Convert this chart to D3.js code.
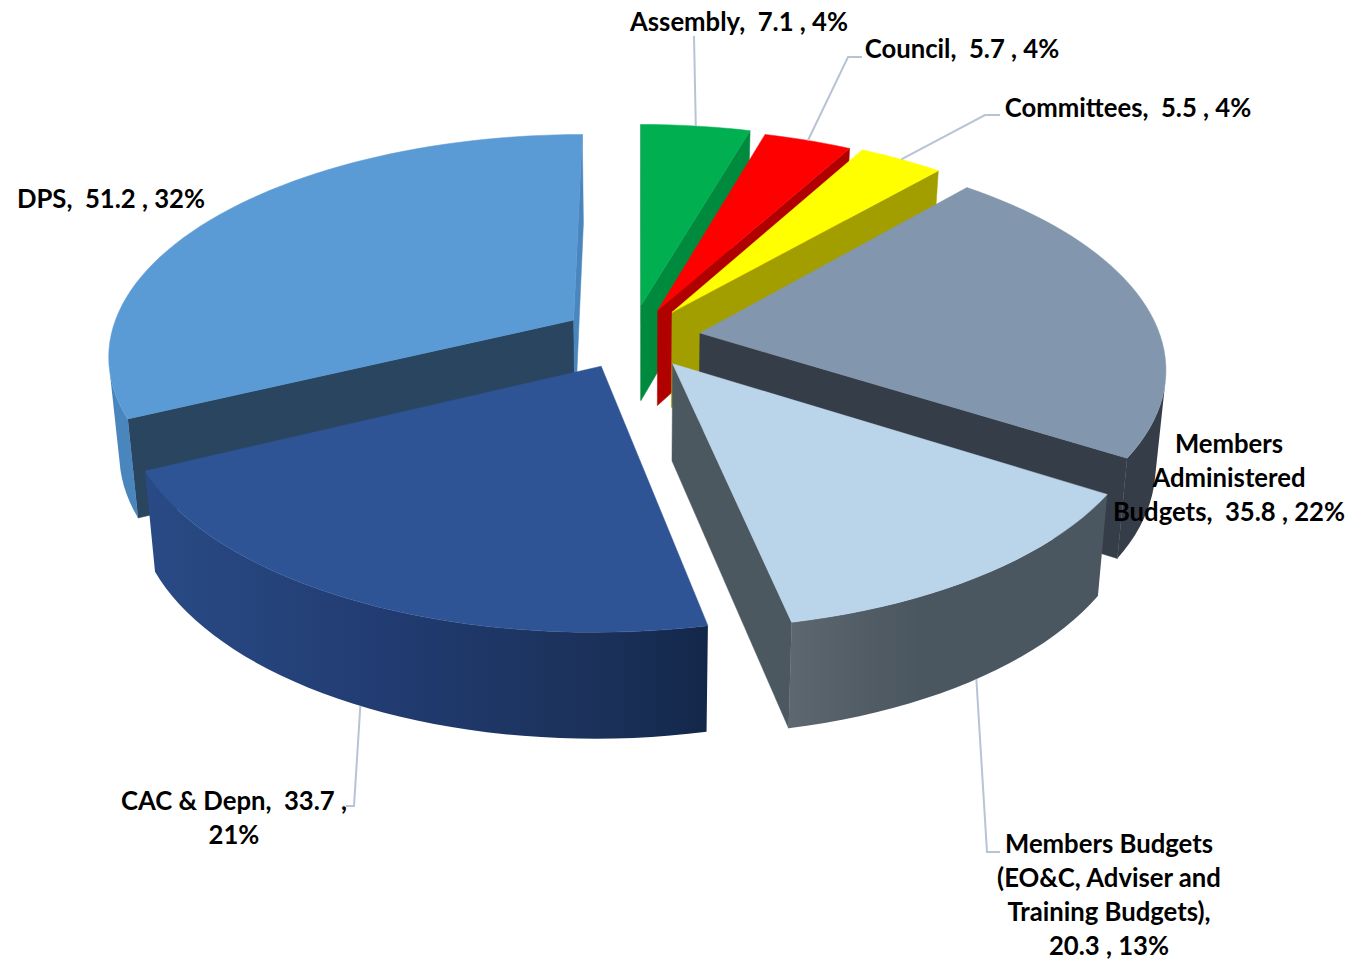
<!DOCTYPE html>
<html><head><meta charset="utf-8">
<script src="https://cdn.jsdelivr.net/npm/d3@7"></script>
<style>html,body{margin:0;padding:0;background:#fff;overflow:hidden}svg{display:block}
text{font-family:Lato,"Open Sans",sans-serif;font-weight:700;fill:#000;white-space:pre}</style>
</head><body><div id="chart"></div>
<script>
// ---- data ----
const categories = ["Assembly","Council","Committees","Members Administered Budgets","Members Budgets (EO&C, Adviser and Training Budgets)","CAC & Depn","DPS"];
const values = [7.1,5.7,5.5,35.8,20.3,33.7,51.2];
const percents = [4,4,4,22,13,21,32];
// ---- styling / layout ----
const topColors  = ["#00B050","#FF0000","#FFFF00","#8296AE","#BAD4EA","#2E5495","#5B9BD5"];
const startWallColors = ["#007A38","#B00000","#A39E00","#353D48","#4B5860","#1F3864","#2A4560"];
const endWallColors   = ["#008A3E","#B00000","#A39E00","#353D48","#4B5860","#1F3864","#4A86BE"];
const rimStops = [
 [[0,"#008A3E"],[1,"#008A3E"]],[[0,"#B00000"],[1,"#B00000"]],[[0,"#A39E00"],[1,"#A39E00"]],
 [[0,"#353D48"],[1,"#353D48"]],
 [[790,"#5C6770"],[860,"#525D66"],[920,"#4B5760"],[1100,"#4B5760"]],
 [[150,"#294A85"],[400,"#213B70"],[600,"#1B3159"],[708,"#13274A"]],
 [[0,"#4A86BE"],[1,"#4A86BE"]]];
const radii = [460,460,460,460,460,460,463];
const explodeX = [1,18,32.5,60,32,-38,-67];
const explodeY = [-64,-53,-49,-4,60,65,-32];
const drawOrder = [6,0,1,2,3,4,5];
const labelLines = [
 ["Assembly,  7.1 , 4%"],["Council,  5.7 , 4%"],["Committees,  5.5 , 4%"],
 ["Members","Administered","Budgets,  35.8 , 22%"],
 ["Members Budgets","(EO&C, Adviser and","Training Budgets),","20.3 , 13%"],
 ["CAC & Depn,  33.7 ,","21%"],["DPS,  51.2 , 32%"]];
const labelX = [739,962,1128,1229,1109,234,111];
const labelY = [22,49,108,444,844,801,199];
const leaderElbows = [[[694,36]],[[848,57],[862,57]],[[985,115],[1000,115]],null,[[987,852],[1000,852]],[[354,806],[346,806]],null];
const leaderOnBottom = [false,false,false,false,true,true,false];

const W=1372,H=963,cx=640,cy=335,k=0.47,p=0.000324,depth=96,depthPow=0.55,q=0.98,fontSize=25.7,lineStep=34;
const svg=d3.select("#chart").append("svg").attr("width",W).attr("height",H);
const defs=svg.append("defs");
const pie=d3.pie().sort(null).value(d=>d)(values);
const xScale=d3.scaleLinear().domain([-1,1]).range([cx-1,cx+1]);
const yScale=d3.scaleLinear().domain([-1,1]).range([cy-k,cy+k]);
function proj(X,Y,low){
  const s=1/(1-p*Y);
  let sx=xScale(X*s), sy=yScale(Y*s);
  if(low){ sx=cx+(sx-cx)*q; sy+=depth*Math.pow(s,depthPow); }
  return [sx,sy];
}
const rim=(i,a,low)=>proj(explodeX[i]+radii[i]*Math.sin(a),explodeY[i]-radii[i]*Math.cos(a),low);
const apex=(i,low)=>proj(explodeX[i],explodeY[i],low);
const line=d3.line();
const area=pts=>d3.polygonArea(pts);   // negative = face looks at the viewer with this winding
function face(g,pts,color){
  g.append("path").attr("d",line(pts)+"Z").attr("fill",color).attr("stroke",color).attr("stroke-width",0.5).attr("stroke-linejoin","round");
}
const stepRad=Math.PI/90;
drawOrder.forEach(i=>{
  const d=pie[i],a0=d.startAngle,a1=d.endAngle;
  const g=svg.append("g").attr("class","slice").attr("data-name",categories[i]);
  const n=Math.max(2,Math.ceil((a1-a0)/stepRad));
  const angles=d3.range(n+1).map(j=>a0+(a1-a0)*j/n);
  const startWall=[rim(i,a0,false),apex(i,false),apex(i,true),rim(i,a0,true)];
  const endWall=[apex(i,false),rim(i,a1,false),rim(i,a1,true),apex(i,true)];
  if(area(startWall)<0 || Math.abs(a0)<1e-6) face(g,startWall,startWallColors[i]);
  if(area(endWall)<0) face(g,endWall,endWallColors[i]);
  // visible part of the rim as a single polygon with a horizontal gradient
  const vis=[];
  for(let j=0;j<n;j++){
    const b0=angles[j],b1=angles[j+1];
    const st=[rim(i,b1,false),rim(i,b0,false),rim(i,b0,true),rim(i,b1,true)];
    if(area(st)<=0){ if(!vis.length||vis[vis.length-1]!==b0) vis.push(b0); vis.push(b1); }
  }
  if(vis.length){
    const stops=rimStops[i],id="rim"+i;
    const lg=defs.append("linearGradient").attr("id",id).attr("gradientUnits","userSpaceOnUse")
      .attr("x1",stops[0][0]).attr("x2",stops[stops.length-1][0]).attr("y1",0).attr("y2",0);
    const off=d3.scaleLinear().domain([stops[0][0],stops[stops.length-1][0]]).range([0,1]);
    stops.forEach(s=>lg.append("stop").attr("offset",off(s[0])).attr("stop-color",s[1]));
    const pts=vis.map(a=>rim(i,a,false)).concat(vis.slice().reverse().map(a=>rim(i,a,true)));
    g.append("path").attr("d",line(pts)+"Z").attr("fill",`url(#${id})`);
  }
  const topPts=[apex(i,false)].concat(angles.map(a=>rim(i,a,false)));
  face(g,topPts,topColors[i]);
});
// leaders
categories.forEach((c,i)=>{
  if(!leaderElbows[i])return;
  const mid=(pie[i].startAngle+pie[i].endAngle)/2;
  svg.append("path").attr("d",line([rim(i,mid,leaderOnBottom[i])].concat(leaderElbows[i])))
     .attr("fill","none").attr("stroke","#B8C4D6").attr("stroke-width",2);
});
// labels
categories.forEach((c,i)=>{
  const t=svg.append("text").attr("text-anchor","middle").attr("font-size",fontSize);
  labelLines[i].forEach((s,j)=>t.append("tspan").attr("x",labelX[i]).attr("y",labelY[i]+j*lineStep+8.5).text(s));
});
</script></body></html>
